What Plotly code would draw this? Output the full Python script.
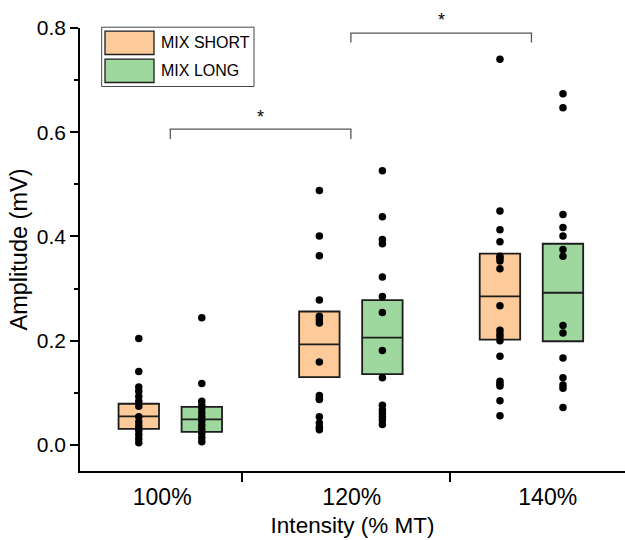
import plotly.graph_objects as go

# ---------------- data ----------------
categories = ["100%", "120%", "140%"]
series_names = ["MIX SHORT", "MIX LONG"]

short_100 = [0.204, 0.141, 0.111, 0.103, 0.093, 0.084, 0.074, 0.054, 0.044, 0.036, 0.028, 0.020, 0.012, 0.004]
short_120 = [0.488, 0.401, 0.363, 0.278, 0.247, 0.240, 0.234, 0.159, 0.095, 0.090, 0.087, 0.054, 0.042, 0.034, 0.029]
short_140 = [0.740, 0.449, 0.413, 0.390, 0.362, 0.358, 0.353, 0.338, 0.267, 0.220, 0.213, 0.207, 0.200,
             0.170, 0.122, 0.117, 0.113, 0.085, 0.056]

long_100 = [0.244, 0.118, 0.084, 0.076, 0.070, 0.062, 0.054, 0.046, 0.038, 0.030, 0.022, 0.014, 0.006]
long_120 = [0.526, 0.438, 0.394, 0.386, 0.322, 0.285, 0.254, 0.181, 0.129, 0.076, 0.067, 0.061, 0.054, 0.048, 0.039]
long_140 = [0.674, 0.647, 0.442, 0.417, 0.401, 0.375, 0.362, 0.229, 0.215, 0.167, 0.129, 0.115, 0.109, 0.072]

short_q1 = [0.031, 0.130, 0.202]
short_median = [0.055, 0.193, 0.285]
short_q3 = [0.079, 0.256, 0.367]

long_q1 = [0.025, 0.136, 0.199]
long_median = [0.049, 0.206, 0.292]
long_q3 = [0.073, 0.278, 0.386]

y_tick_values = [0.0, 0.2, 0.4, 0.6, 0.8]
y_tick_labels = ["0.0", "0.2", "0.4", "0.6", "0.8"]

# ---------------- style / layout constants ----------------
FONT = "Arial, Liberation Sans, sans-serif"
OFFSET = 0.1745
BOX_W = 0.224
FILL = {"MIX SHORT": "#FDCA99", "MIX LONG": "#9FD89E"}
EDGE = "#1c1c1c"
Y_MIN, Y_MAX = -0.05, 0.8

fig = go.Figure()

groups = [
    ("MIX SHORT", -1, short_q1, short_median, short_q3, [short_100, short_120, short_140]),
    ("MIX LONG", 1, long_q1, long_median, long_q3, [long_100, long_120, long_140]),
]

for name, sign, q1, med, q3, pts in groups:
    xs = [i + sign * OFFSET for i in range(len(categories))]
    fig.add_trace(go.Box(
        x=xs, q1=q1, median=med, q3=q3, lowerfence=q1, upperfence=q3,
        width=BOX_W, fillcolor=FILL[name], line=dict(color=EDGE, width=1.8),
        boxpoints=False, name=name, showlegend=False, hoverinfo="skip",
        whiskerwidth=0,
    ))
    for i, p in enumerate(pts):
        fig.add_trace(go.Scatter(
            x=[xs[i]] * len(p), y=p, mode="markers",
            marker=dict(color="black", size=7.5, line=dict(width=0)),
            showlegend=False, hoverinfo="y",
        ))

# significance brackets
brackets = [(0, 1, 0.606, 0.587, 0.630), (1, 2, 0.790, 0.772, 0.816)]
shapes = []
annotations = []
for x0, x1, ytop, yend, ystar in brackets:
    shapes.append(dict(
        type="path", xref="x", yref="y",
        path=f"M {x0},{yend} L {x0},{ytop} L {x1},{ytop} L {x1},{yend}",
        line=dict(color="#555555", width=1.3),
    ))
    annotations.append(dict(
        x=(x0 + x1) / 2, y=(ystar - Y_MIN) / (Y_MAX - Y_MIN), xref="x", yref="paper",
        text="*", showarrow=False,
        font=dict(family=FONT, size=18, color="black"), yanchor="middle",
    ))

# manual legend (pixel -> paper)
PL, PR, PT, PB = 80, 625, 27.5, 470.7


def px(x):
    return (x - PL) / (PR - PL)


def py(y):
    return (PB - y) / (PB - PT)


shapes.append(dict(type="rect", xref="paper", yref="paper",
                   x0=px(101.7), x1=px(254), y0=py(86), y1=py(26.7),
                   line=dict(color="#444444", width=1), fillcolor="white", layer="above"))
legend_rows = [(30.7, 54.0), (58.7, 82.0)]
for name, (ya, yb) in zip(series_names, legend_rows):
    shapes.append(dict(type="rect", xref="paper", yref="paper",
                       x0=px(105), x1=px(154), y0=py(yb), y1=py(ya),
                       line=dict(color=EDGE, width=1.3), fillcolor=FILL[name], layer="above"))
    annotations.append(dict(x=px(159), y=py((ya + yb) / 2), xref="paper", yref="paper",
                            text=name, showarrow=False, xanchor="left", yanchor="middle",
                            font=dict(family=FONT, size=16, color="black")))

x_label_positions = [-0.045, 1.005, 2.09]
x_dividers = [0.399, 1.548]

fig.update_layout(
    width=625, height=540,
    margin=dict(l=PL, r=0, t=PT, b=540 - PB, autoexpand=False),
    paper_bgcolor="white", plot_bgcolor="white",
    boxmode="overlay",
    showlegend=False,
    font=dict(family=FONT, color="black"),
    shapes=shapes,
    annotations=annotations,
    xaxis=dict(
        range=[-0.5, 2.518], showgrid=False, zeroline=False, automargin=False,
        showline=True, linecolor="black", linewidth=1.5,
        tickmode="array", tickvals=x_label_positions, ticktext=categories,
        ticks="outside", ticklen=5, tickcolor="rgba(0,0,0,0)",
        tickfont=dict(family=FONT, size=23, color="black"),
        minor=dict(tickmode="array", tickvals=x_dividers, ticks="outside",
                   ticklen=9, tickwidth=1.5, tickcolor="black", showgrid=False),
        title=dict(text="Intensity (% MT)", font=dict(family=FONT, size=22.5, color="black"), standoff=8),
    ),
    yaxis=dict(
        range=[Y_MIN, Y_MAX], showgrid=False, zeroline=False, automargin=False,
        showline=True, linecolor="black", linewidth=1.5,
        tickmode="array", tickvals=y_tick_values, ticktext=y_tick_labels,
        ticks="outside", ticklen=8, tickwidth=1.5, tickcolor="black",
        tickfont=dict(family=FONT, size=21, color="black"),
        minor=dict(dtick=0.1, tick0=0, ticks="outside", ticklen=4, tickwidth=1.5,
                   tickcolor="black", showgrid=False),
        title=dict(text="Amplitude (mV)", font=dict(family=FONT, size=23.5, color="black"), standoff=3),
    ),
)

fig.write_html(
    "out.html",
    config={"displayModeBar": False},
    post_script="document.body.style.margin='0';document.body.style.overflow='hidden';",
)
